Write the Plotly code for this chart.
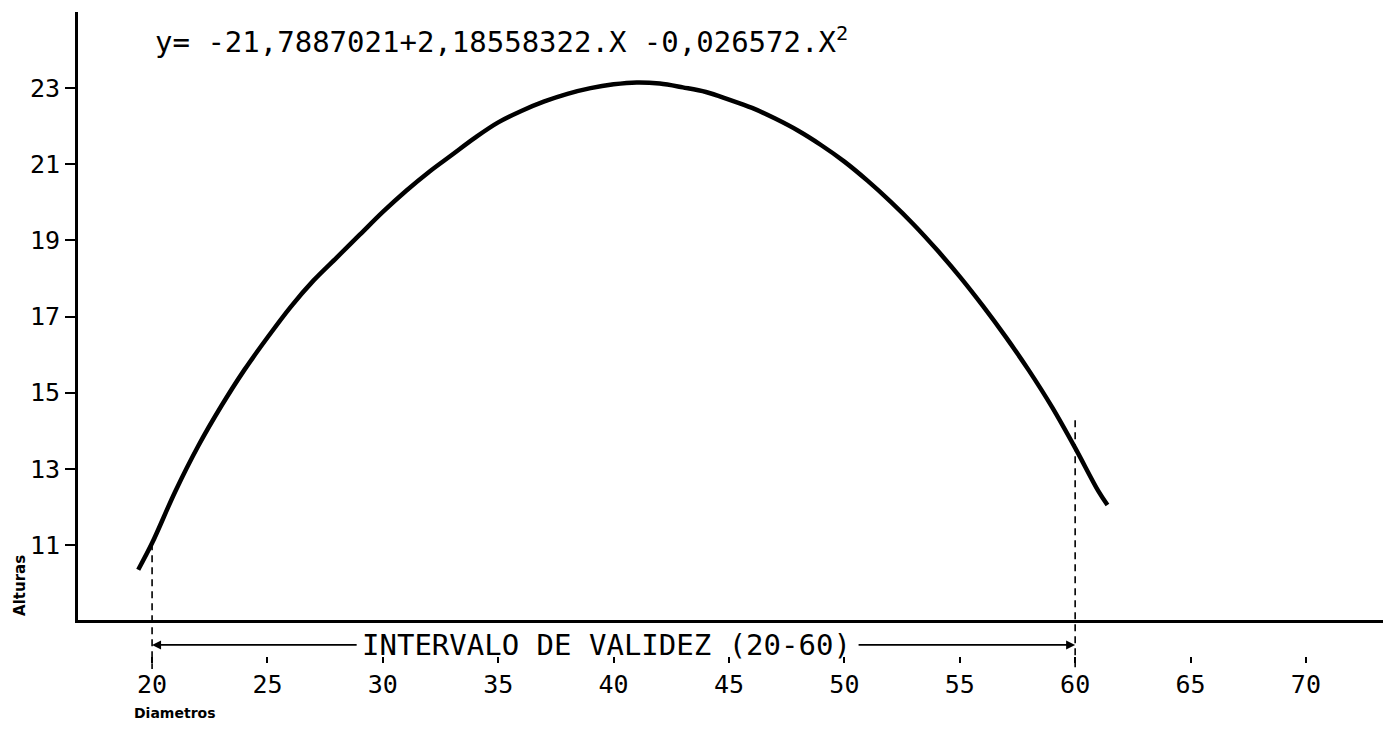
import plotly.graph_objects as go

# ---- data ----
diametros = [19.4, 20, 21, 22, 23, 24, 25, 26, 27, 28, 29, 30, 31, 32, 33, 34, 35,
             36, 37, 38, 39, 40, 41, 42, 43, 44, 45, 46, 47, 48, 49, 50, 51, 52,
             53, 54, 55, 56, 57, 58, 59, 60, 61, 61.4]
alturas = [10.35, 11.05, 12.4, 13.6, 14.65, 15.6, 16.45, 17.25, 17.95, 18.55, 19.15,
           19.75, 20.3, 20.8, 21.25, 21.7, 22.1, 22.4, 22.65, 22.85, 23.0, 23.1,
           23.15, 23.12, 23.02, 22.9, 22.7, 22.48, 22.2, 21.88, 21.5, 21.07, 20.57,
           20.02, 19.42, 18.76, 18.05, 17.28, 16.46, 15.58, 14.62, 13.55, 12.42, 12.05]
validez = [20, 60]                 # interval of validity
validez_top = [11.05, 14.28]       # where the dashed guides start
y_ticks = [11, 13, 15, 17, 19, 21, 23]
x_ticks = [20, 25, 30, 35, 40, 45, 50, 55, 60, 65, 70]
equation = "y= -21,7887021+2,18558322.X -0,026572.X<sup>2</sup>"
interval_label = "INTERVALO DE VALIDEZ (20-60)"

MONO = "DejaVu Sans Mono"
XR = [16.79, 73.34]
YR = [9.03, 25.0]
Y2R = [6.145, 25.0]
guide_bottom = 7.75
arrow_y = 8.38
arrow_tails = [28.93, 50.55]

fig = go.Figure()

# main curve
fig.add_trace(go.Scatter(x=diametros, y=alturas, mode="lines",
                         line=dict(color="black", width=4.5, shape="spline"),
                         xaxis="x", yaxis="y", hoverinfo="skip"))

# dashed guides (on full-height overlay axis so they can go below the x axis)
for xv, yt in zip(validez, validez_top):
    fig.add_trace(go.Scatter(x=[xv, xv], y=[yt, guide_bottom], mode="lines",
                             line=dict(color="black", width=1.6, dash="7px,5px"),
                             xaxis="x", yaxis="y2", hoverinfo="skip"))

# dummy trace so the tick-label axis is drawn
fig.add_trace(go.Scatter(x=[None], y=[None], xaxis="x2", yaxis="y",
                         mode="lines", hoverinfo="skip"))

annotations = [
    dict(text=equation, xref="paper", yref="paper", x=0.0575, y=0.961,
         xanchor="left", yanchor="middle", showarrow=False,
         font=dict(family=MONO, size=29, color="black")),
    dict(text=interval_label, xref="x", yref="y2", x=39.7, y=arrow_y,
         xanchor="center", yanchor="middle", showarrow=False,
         font=dict(family=MONO, size=29, color="black")),
    dict(text="<b>Alturas</b>", xref="paper", yref="paper", x=-0.0445, y=0.202,
         textangle=-90, showarrow=False, xanchor="center", yanchor="middle",
         font=dict(family="DejaVu Sans", size=15, color="black")),
    dict(text="<b>Diametros</b>", xref="paper", yref="paper", x=0.0743, y=0.0237,
         showarrow=False, xanchor="center", yanchor="middle",
         font=dict(family="DejaVu Sans", size=14, color="black")),
]
for xv, tail in zip(validez, arrow_tails):
    annotations.append(dict(text="", xref="x", yref="y2", x=xv, y=arrow_y,
                            axref="x", ayref="y2", ax=tail, ay=arrow_y,
                            showarrow=True, arrowhead=2, arrowsize=1,
                            arrowwidth=1.8, arrowcolor="black",
                            standoff=0, startstandoff=0))

fig.update_layout(
    width=1399, height=730, autosize=False,
    margin=dict(l=78, r=16, t=12, b=0, pad=0),
    paper_bgcolor="white", plot_bgcolor="rgba(0,0,0,0)",
    showlegend=False,
    xaxis=dict(domain=[0, 1], range=XR, anchor="y", showline=True,
               linecolor="black", linewidth=3, ticks="", showticklabels=False,
               showgrid=False, zeroline=False),
    yaxis=dict(domain=[0.1532, 1], range=YR, anchor="x", showline=True,
               linecolor="black", linewidth=3, ticks="outside", ticklen=10,
               tickwidth=2, tickcolor="black", tickvals=y_ticks,
               tickfont=dict(family=MONO, size=25, color="black"),
               showgrid=False, zeroline=False),
    xaxis2=dict(overlaying="x", range=XR, anchor="free", position=0.1031,
                side="bottom", showline=False, ticks="outside", ticklen=6,
                tickwidth=2, tickcolor="black", tickvals=x_ticks,
                tickfont=dict(family=MONO, size=25, color="black"),
                showgrid=False, zeroline=False),
    yaxis2=dict(domain=[0, 1], range=Y2R, anchor="x", visible=False,
                showgrid=False, zeroline=False),
    annotations=annotations,
)

fig.write_html("out.html")
